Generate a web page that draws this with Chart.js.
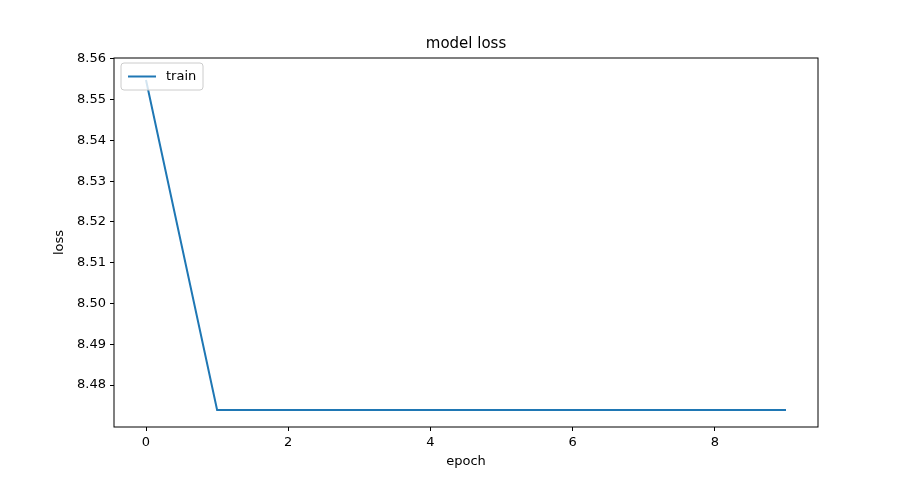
<!DOCTYPE html>
<html><head><meta charset="utf-8">
<script src="https://cdn.jsdelivr.net/npm/chart.js@4/dist/chart.umd.min.js"></script>
<style>html,body{margin:0;background:#fff}#wrap{width:909px;height:480px}</style>
</head><body><div id="wrap"><canvas id="c"></canvas></div>
<script>
const epochs = [0, 1, 2, 3, 4, 5, 6, 7, 8, 9]
const trainLoss = [8.5548, 8.4739, 8.4739, 8.4739, 8.4739, 8.4739, 8.4739, 8.4739, 8.4739, 8.4739]
const xTicks = [0, 2, 4, 6, 8]
const yTicks = [8.48, 8.49, 8.50, 8.51, 8.52, 8.53, 8.54, 8.55, 8.56]

const font = { family: 'DejaVu Sans', size: 13 }
const lineColor = '#1f77b4'

const frame = {
  id: 'frame',
  afterDraw(chart) {
    const { ctx, chartArea: a } = chart
    ctx.save()
    ctx.strokeStyle = '#000'
    ctx.lineWidth = 1
    ctx.strokeRect(a.left, a.top, a.right - a.left, a.bottom - a.top)
    ctx.fillStyle = '#000'
    ctx.font = '15px DejaVu Sans'
    ctx.textAlign = 'center'
    ctx.textBaseline = 'bottom'
    ctx.fillText('model loss', (a.left + a.right) / 2, a.top - 6)
    // axis titles
    ctx.font = '13px DejaVu Sans'
    ctx.textBaseline = 'middle'
    ctx.fillText('epoch', (a.left + a.right) / 2, 462)
    ctx.save()
    ctx.translate(60, (a.top + a.bottom) / 2)
    ctx.rotate(-Math.PI / 2)
    ctx.fillText('loss', 0, 0)
    ctx.restore()
    // legend box
    const lx = a.left + 7, ly = a.top + 5
    ctx.strokeStyle = '#ccc'
    ctx.fillStyle = 'rgba(255,255,255,0.8)'
    ctx.beginPath()
    ctx.roundRect(lx, ly, 82, 27, 3)
    ctx.fill(); ctx.stroke()
    ctx.strokeStyle = lineColor
    ctx.lineWidth = 2
    ctx.beginPath(); ctx.moveTo(lx + 7, ly + 13.5); ctx.lineTo(lx + 35, ly + 13.5); ctx.stroke()
    ctx.fillStyle = '#000'
    ctx.textAlign = 'left'
    ctx.fillText('train', lx + 45, ly + 14)
    ctx.restore()
  }
}

new Chart(document.getElementById('c'), {
  type: 'line',
  data: {
    datasets: [{
      label: 'train',
      data: epochs.map((e, i) => ({ x: e, y: trainLoss[i] })),
      borderColor: lineColor,
      borderWidth: 2,
      pointRadius: 0,
      tension: 0
    }]
  },
  options: {
    responsive: true,
    maintainAspectRatio: false,
    animation: false,
    layout: { padding: { top: 58, right: 91, left: 0, bottom: 0 } },
    plugins: { legend: { display: false }, title: { display: false }, tooltip: { enabled: false } },
    scales: {
      x: {
        type: 'linear', min: -0.45, max: 9.45,
        afterBuildTicks: s => { s.ticks = xTicks.map(v => ({ value: v })) },
        grid: { drawOnChartArea: false, drawTicks: true, tickLength: 4, color: '#000' },
        border: { display: false },
        ticks: { color: '#000', font, padding: 4, maxRotation: 0 },
        afterFit: s => { s.height = 53 }
      },
      y: {
        type: 'linear', min: 8.4697, max: 8.5602,
        afterBuildTicks: s => { s.ticks = yTicks.map(v => ({ value: v })) },
        grid: { drawOnChartArea: false, drawTicks: true, tickLength: 4, color: '#000' },
        border: { display: false },
        ticks: { color: '#000', font, padding: 4, callback: v => v.toFixed(2) },
        afterFit: s => { s.width = 114 }
      }
    }
  },
  plugins: [frame]
})
</script></body></html>
